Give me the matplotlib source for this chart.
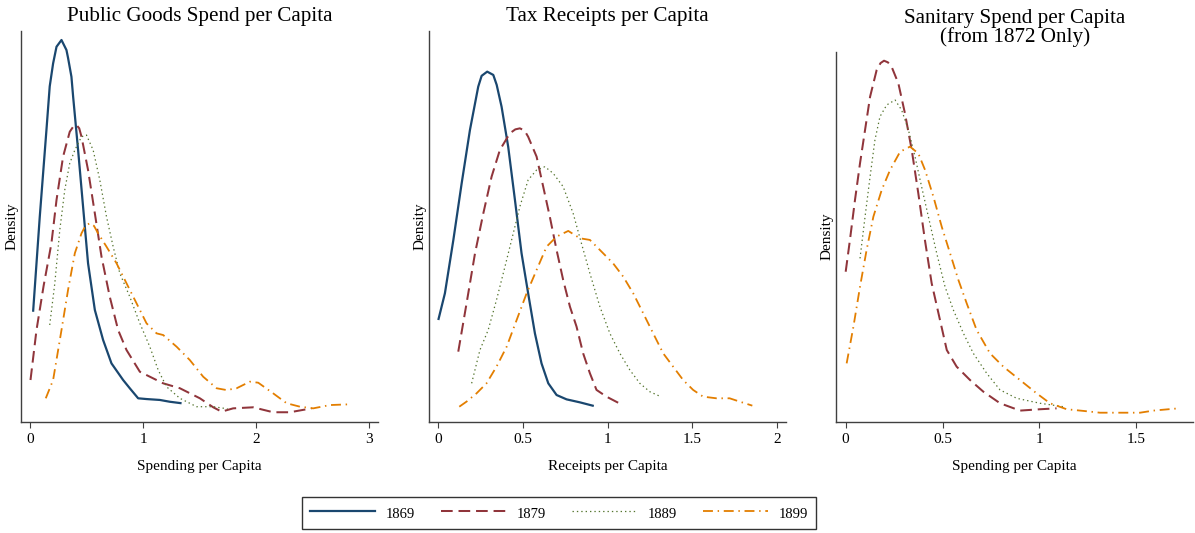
import matplotlib
matplotlib.use("Agg")
import matplotlib.pyplot as plt
from matplotlib.lines import Line2D

plt.rcParams['font.family'] = ['Liberation Serif', 'DejaVu Serif']

years = ["1869", "1879", "1889", "1899"]
colors = ["#1a476f", "#90353b", "#55752f", "#e37e00"]

# ---- Panel 1: Public Goods Spend per Capita ----
pg_1869_x = [0.027, 0.086, 0.145, 0.174, 0.204, 0.234, 0.278, 0.322, 0.336, 0.366, 0.381, 0.425, 0.469, 0.513, 0.573, 0.646, 0.720, 0.823, 0.882, 0.956, 1.030, 1.148, 1.236, 1.340]
pg_1869_y = [0.677, 1.311, 1.889, 2.180, 2.333, 2.444, 2.489, 2.422, 2.370, 2.244, 2.111, 1.755, 1.377, 1.000, 0.689, 0.489, 0.333, 0.222, 0.167, 0.100, 0.095, 0.089, 0.077, 0.067]
pg_1879_x = [0.004, 0.057, 0.120, 0.189, 0.234, 0.292, 0.351, 0.385, 0.411, 0.435, 0.455, 0.513, 0.573, 0.632, 0.705, 0.779, 0.853, 0.971, 1.177, 1.325, 1.502, 1.620, 1.694, 1.796, 1.973, 2.150, 2.298, 2.490]
pg_1879_y = [0.222, 0.555, 0.850, 1.133, 1.422, 1.711, 1.877, 1.915, 1.922, 1.900, 1.844, 1.622, 1.333, 1.044, 0.777, 0.555, 0.422, 0.277, 0.200, 0.167, 0.100, 0.040, 0.011, 0.033, 0.040, 0.007, 0.007, 0.033]
pg_1889_x = [0.174, 0.219, 0.263, 0.307, 0.351, 0.396, 0.455, 0.499, 0.558, 0.617, 0.676, 0.735, 0.794, 0.882, 0.971, 1.059, 1.133, 1.207, 1.325, 1.473, 1.620, 1.747]
pg_1889_y = [0.589, 0.867, 1.222, 1.489, 1.667, 1.755, 1.844, 1.855, 1.755, 1.555, 1.311, 1.111, 0.933, 0.777, 0.600, 0.444, 0.289, 0.177, 0.100, 0.044, 0.044, 0.030]
pg_1899_x = [0.139, 0.204, 0.278, 0.336, 0.396, 0.455, 0.490, 0.528, 0.565, 0.602, 0.676, 0.765, 0.853, 0.942, 1.030, 1.119, 1.177, 1.296, 1.413, 1.531, 1.650, 1.738, 1.827, 1.944, 2.018, 2.150, 2.269, 2.387, 2.504, 2.652, 2.829]
pg_1899_y = [0.100, 0.222, 0.555, 0.822, 1.067, 1.200, 1.250, 1.267, 1.250, 1.200, 1.111, 1.000, 0.867, 0.733, 0.600, 0.533, 0.522, 0.444, 0.355, 0.244, 0.167, 0.155, 0.167, 0.211, 0.204, 0.133, 0.067, 0.044, 0.033, 0.055, 0.060]

# ---- Panel 2: Tax Receipts per Capita ----
tx_1869_x = [0.000, 0.039, 0.089, 0.138, 0.187, 0.236, 0.256, 0.289, 0.325, 0.345, 0.374, 0.413, 0.453, 0.492, 0.531, 0.571, 0.610, 0.650, 0.699, 0.758, 0.837, 0.919]
tx_1869_y = [0.622, 0.800, 1.156, 1.533, 1.889, 2.178, 2.250, 2.278, 2.256, 2.190, 2.044, 1.778, 1.422, 1.067, 0.800, 0.533, 0.333, 0.200, 0.122, 0.093, 0.073, 0.049]
tx_1879_x = [0.118, 0.167, 0.217, 0.266, 0.315, 0.364, 0.423, 0.455, 0.482, 0.510, 0.531, 0.581, 0.620, 0.659, 0.699, 0.738, 0.778, 0.817, 0.856, 0.896, 0.935, 0.994, 1.069]
tx_1879_y = [0.411, 0.733, 1.067, 1.333, 1.578, 1.756, 1.867, 1.893, 1.900, 1.885, 1.844, 1.711, 1.511, 1.311, 1.089, 0.889, 0.711, 0.578, 0.400, 0.267, 0.156, 0.111, 0.067]
tx_1889_x = [0.197, 0.246, 0.295, 0.344, 0.394, 0.443, 0.482, 0.531, 0.581, 0.630, 0.679, 0.738, 0.797, 0.846, 0.896, 0.955, 1.014, 1.073, 1.132, 1.191, 1.250, 1.315]
tx_1889_y = [0.200, 0.422, 0.556, 0.756, 0.978, 1.200, 1.378, 1.556, 1.622, 1.644, 1.600, 1.511, 1.333, 1.133, 0.933, 0.711, 0.533, 0.400, 0.289, 0.200, 0.144, 0.111]
tx_1899_x = [0.124, 0.167, 0.226, 0.285, 0.344, 0.404, 0.463, 0.522, 0.581, 0.640, 0.699, 0.768, 0.837, 0.896, 0.955, 1.033, 1.093, 1.152, 1.211, 1.270, 1.329, 1.388, 1.447, 1.506, 1.565, 1.644, 1.722, 1.781, 1.856]
tx_1899_y = [0.044, 0.078, 0.133, 0.200, 0.311, 0.444, 0.622, 0.800, 0.956, 1.111, 1.178, 1.216, 1.167, 1.156, 1.089, 1.000, 0.911, 0.800, 0.667, 0.533, 0.400, 0.311, 0.222, 0.156, 0.111, 0.100, 0.100, 0.078, 0.051]

# ---- Panel 3: Sanitary Spend per Capita (from 1872) ----
sn_1879_x = [0.000, 0.022, 0.048, 0.074, 0.100, 0.126, 0.160, 0.180, 0.198, 0.218, 0.237, 0.272, 0.306, 0.341, 0.375, 0.409, 0.444, 0.487, 0.522, 0.573, 0.642, 0.711, 0.797, 0.900, 1.003, 1.089]
sn_1879_y = [0.944, 1.156, 1.422, 1.667, 1.889, 2.111, 2.289, 2.335, 2.351, 2.340, 2.311, 2.200, 2.000, 1.756, 1.467, 1.156, 0.867, 0.622, 0.422, 0.311, 0.222, 0.144, 0.067, 0.018, 0.027, 0.033]
sn_1889_x = [0.074, 0.100, 0.126, 0.151, 0.177, 0.212, 0.255, 0.289, 0.324, 0.358, 0.392, 0.427, 0.470, 0.513, 0.556, 0.608, 0.659, 0.728, 0.797, 0.883, 1.003, 1.124]
sn_1889_y = [1.033, 1.311, 1.578, 1.822, 1.978, 2.056, 2.089, 2.022, 1.889, 1.711, 1.511, 1.311, 1.067, 0.844, 0.689, 0.533, 0.400, 0.267, 0.156, 0.100, 0.067, 0.044]
sn_1899_x = [0.005, 0.040, 0.074, 0.108, 0.143, 0.186, 0.229, 0.281, 0.332, 0.375, 0.410, 0.453, 0.496, 0.539, 0.582, 0.625, 0.676, 0.745, 0.814, 0.900, 0.986, 1.055, 1.141, 1.227, 1.313, 1.417, 1.520, 1.589, 1.718]
sn_1899_y = [0.333, 0.578, 0.844, 1.089, 1.311, 1.489, 1.622, 1.744, 1.778, 1.733, 1.622, 1.444, 1.244, 1.067, 0.889, 0.733, 0.556, 0.400, 0.311, 0.222, 0.133, 0.067, 0.027, 0.016, 0.004, 0.004, 0.004, 0.018, 0.033]

titles = ["Public Goods Spend per Capita", "Tax Receipts per Capita",
          "Sanitary Spend per Capita\n(from 1872 Only)"]
xlabels = ["Spending per Capita", "Receipts per Capita", "Spending per Capita"]
xticks = [[0, 1, 2, 3], [0, 0.5, 1, 1.5, 2], [0, 0.5, 1, 1.5]]
xticklabels = [["0", "1", "2", "3"], ["0", "0.5", "1", "1.5", "2"], ["0", "0.5", "1", "1.5"]]

styles = [
    dict(linestyle="-", linewidth=1.6),
    dict(linestyle=(0, (5.8, 2.9)), linewidth=1.45),
    dict(linestyle=(0, (1.1, 2.4)), linewidth=0.9),
    dict(linestyle=(0, (5.5, 2.6, 0.8, 2.6)), linewidth=1.3),
]

W, H = 1195, 533
fig = plt.figure(figsize=(W / 100, H / 100), dpi=100)

def px_axes(left, right, top, bottom):
    return fig.add_axes([left / W, 1 - bottom / H, (right - left) / W, (bottom - top) / H])

axes = [px_axes(21, 378, 30.7, 421.7), px_axes(429, 786, 30.7, 421.7), px_axes(836, 1193.3, 51.7, 421.7)]
xlims = [(-0.08, 3.077), (-0.055, 2.055), (-0.05, 1.795)]
ylims = [(-0.056, 2.551), (-0.056, 2.551), (-0.056, 2.411)]

panel_data = [
    [(pg_1869_x, pg_1869_y), (pg_1879_x, pg_1879_y), (pg_1889_x, pg_1889_y), (pg_1899_x, pg_1899_y)],
    [(tx_1869_x, tx_1869_y), (tx_1879_x, tx_1879_y), (tx_1889_x, tx_1889_y), (tx_1899_x, tx_1899_y)],
    [None, (sn_1879_x, sn_1879_y), (sn_1889_x, sn_1889_y), (sn_1899_x, sn_1899_y)],
]

for i, ax in enumerate(axes):
    for j, d in enumerate(panel_data[i]):
        if d is None:
            continue
        ax.plot(d[0], d[1], color=colors[j], solid_capstyle="butt", dash_capstyle="butt",
                solid_joinstyle="round", dash_joinstyle="round", **styles[j])
    ax.set_xlim(*xlims[i])
    ax.set_ylim(*ylims[i])
    ax.set_yticks([])
    ax.set_xticks(xticks[i])
    ax.set_xticklabels(xticklabels[i])
    ax.tick_params(axis="x", length=4, width=0.8, color="#404040", labelsize=11, pad=4)
    for s in ["top", "right"]:
        ax.spines[s].set_visible(False)
    for s in ["left", "bottom"]:
        ax.spines[s].set_color("#404040")
        ax.spines[s].set_linewidth(1.0)
    ax.set_xlabel(xlabels[i], fontsize=11, labelpad=10)
    ax.set_ylabel("Density", fontsize=11, labelpad=2)
    ax.set_title(titles[i], fontsize=15.2, pad=7, linespacing=0.95)

handles = [Line2D([], [], color=colors[j], **styles[j]) for j in range(4)]
leg = fig.legend(handles, years, loc="center", bbox_to_anchor=(559 / W, 1 - 513.3 / H),
                 ncol=4, fontsize=10.5, frameon=True, fancybox=False, edgecolor="black",
                 handlelength=4.5, handletextpad=0.73, columnspacing=1.75, borderpad=0.5,
                 handleheight=1.5)
leg.get_frame().set_linewidth(1.0)

fig.savefig("out.png", dpi=100)
